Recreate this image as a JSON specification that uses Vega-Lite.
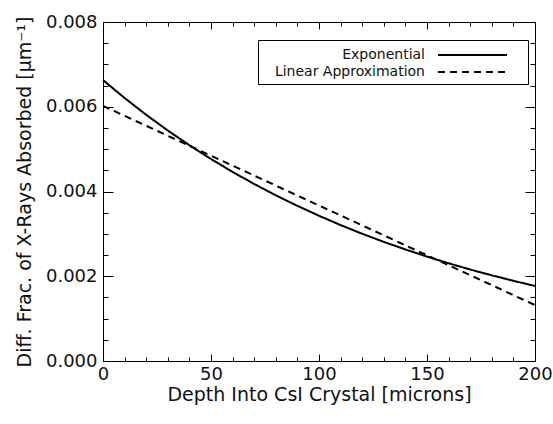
{
  "$schema": "https://vega.github.io/schema/vega-lite/v6.json",
  "width": 432,
  "height": 339,
  "autosize": {"type": "none"},
  "padding": {"left": 103, "top": 22, "right": 18, "bottom": 63},
  "background": "white",
  "config": {
    "view": {"stroke": null},
    "font": "DejaVu Sans",
    "axis": {"grid": false, "ticks": true, "labelFlush": false, "domainColor": "#000", "tickColor": "#000", "labelColor": "#111", "titleColor": "#111", "labelFont": "DejaVu Sans", "titleFont": "DejaVu Sans", "labelFontSize": 18, "titleFontSize": 19, "titleFontWeight": "normal", "domainWidth": 1, "tickWidth": 1}
  },
  "data": {
    "values": [
      {"depth": 0, "frac": 0.00663, "series": "Exponential"},
      {"depth": 10, "frac": 0.006206, "series": "Exponential"},
      {"depth": 20, "frac": 0.00581, "series": "Exponential"},
      {"depth": 30, "frac": 0.005439, "series": "Exponential"},
      {"depth": 40, "frac": 0.005092, "series": "Exponential"},
      {"depth": 50, "frac": 0.004767, "series": "Exponential"},
      {"depth": 60, "frac": 0.004462, "series": "Exponential"},
      {"depth": 70, "frac": 0.004177, "series": "Exponential"},
      {"depth": 80, "frac": 0.00391, "series": "Exponential"},
      {"depth": 90, "frac": 0.003661, "series": "Exponential"},
      {"depth": 100, "frac": 0.003427, "series": "Exponential"},
      {"depth": 110, "frac": 0.003208, "series": "Exponential"},
      {"depth": 120, "frac": 0.003003, "series": "Exponential"},
      {"depth": 130, "frac": 0.002811, "series": "Exponential"},
      {"depth": 140, "frac": 0.002632, "series": "Exponential"},
      {"depth": 150, "frac": 0.002464, "series": "Exponential"},
      {"depth": 160, "frac": 0.002306, "series": "Exponential"},
      {"depth": 170, "frac": 0.002159, "series": "Exponential"},
      {"depth": 180, "frac": 0.002021, "series": "Exponential"},
      {"depth": 190, "frac": 0.001892, "series": "Exponential"},
      {"depth": 200, "frac": 0.001771, "series": "Exponential"},
      {"depth": 0, "frac": 0.00602, "series": "Linear Approximation"},
      {"depth": 200, "frac": 0.00132, "series": "Linear Approximation"}
    ]
  },
  "resolve": {"axis": {"x": "independent", "y": "independent"}},
  "layer": [
    {
      "mark": {"type": "line", "strokeWidth": 2, "color": "#000"},
      "encoding": {
        "x": {"field": "depth", "type": "quantitative", "scale": {"domain": [0, 200], "nice": false, "zero": false},
          "axis": {"orient": "bottom", "values": [0, 50, 100, 150, 200], "ticks": true, "tickSize": -7, "labelPadding": 11, "labelFlush": false, "title": "Depth Into CsI Crystal [microns]", "titlePadding": 2}},
        "y": {"field": "frac", "type": "quantitative", "scale": {"domain": [0, 0.008], "nice": false},
          "axis": {"orient": "left", "values": [0, 0.002, 0.004, 0.006, 0.008], "format": ".3f", "ticks": true, "tickSize": -10, "labelPadding": 16, "labelFlush": false, "title": "Diff. Frac. of X-Rays Absorbed [μm⁻¹]", "titlePadding": 11}},
        "strokeDash": {"field": "series", "type": "nominal",
          "scale": {"domain": ["Exponential", "Linear Approximation"], "range": [[1, 0], [7, 5]]},
          "legend": {"title": null, "orient": "none", "legendX": 155, "legendY": 18, "symbolType": "M18.33,0H26M27.33,0", "symbolSize": 324, "symbolStrokeWidth": 2, "symbolStrokeColor": "#000", "labelFontSize": 14, "labelColor": "#111", "labelAlign": "right", "labelOffset": 142, "labelLimit": 400, "strokeColor": "#000", "fillColor": "#fff", "padding": 5, "rowPadding": 0}}
      }
    },
    {
      "mark": {"type": "line", "strokeOpacity": 0},
      "encoding": {
        "x": {"field": "depth", "type": "quantitative", "axis": {"orient": "top", "values": [0, 50, 100, 150, 200], "ticks": true, "tickSize": -7, "labels": false, "title": null}},
        "y": {"field": "frac", "type": "quantitative", "axis": {"orient": "right", "values": [0, 0.002, 0.004, 0.006, 0.008], "ticks": true, "tickSize": -10, "labels": false, "title": null}},
        "detail": {"field": "series"}
      }
    },
    {
      "mark": {"type": "line", "strokeOpacity": 0},
      "encoding": {
        "x": {"field": "depth", "type": "quantitative", "axis": {"orient": "bottom", "values": [0,10,20,30,40,50,60,70,80,90,100,110,120,130,140,150,160,170,180,190,200], "ticks": true, "tickSize": -4, "labels": false, "title": null, "domain": false}},
        "y": {"field": "frac", "type": "quantitative", "axis": {"orient": "left", "values": [0,0.0005,0.001,0.0015,0.002,0.0025,0.003,0.0035,0.004,0.0045,0.005,0.0055,0.006,0.0065,0.007,0.0075,0.008], "ticks": true, "tickSize": -5, "labels": false, "title": null, "domain": false}},
        "detail": {"field": "series"}
      }
    },
    {
      "mark": {"type": "line", "strokeOpacity": 0},
      "encoding": {
        "x": {"field": "depth", "type": "quantitative", "axis": {"orient": "top", "values": [0,10,20,30,40,50,60,70,80,90,100,110,120,130,140,150,160,170,180,190,200], "ticks": true, "tickSize": -4, "labels": false, "title": null, "domain": false}},
        "y": {"field": "frac", "type": "quantitative", "axis": {"orient": "right", "values": [0,0.0005,0.001,0.0015,0.002,0.0025,0.003,0.0035,0.004,0.0045,0.005,0.0055,0.006,0.0065,0.007,0.0075,0.008], "ticks": true, "tickSize": -5, "labels": false, "title": null, "domain": false}},
        "detail": {"field": "series"}
      }
    }
  ]
}
